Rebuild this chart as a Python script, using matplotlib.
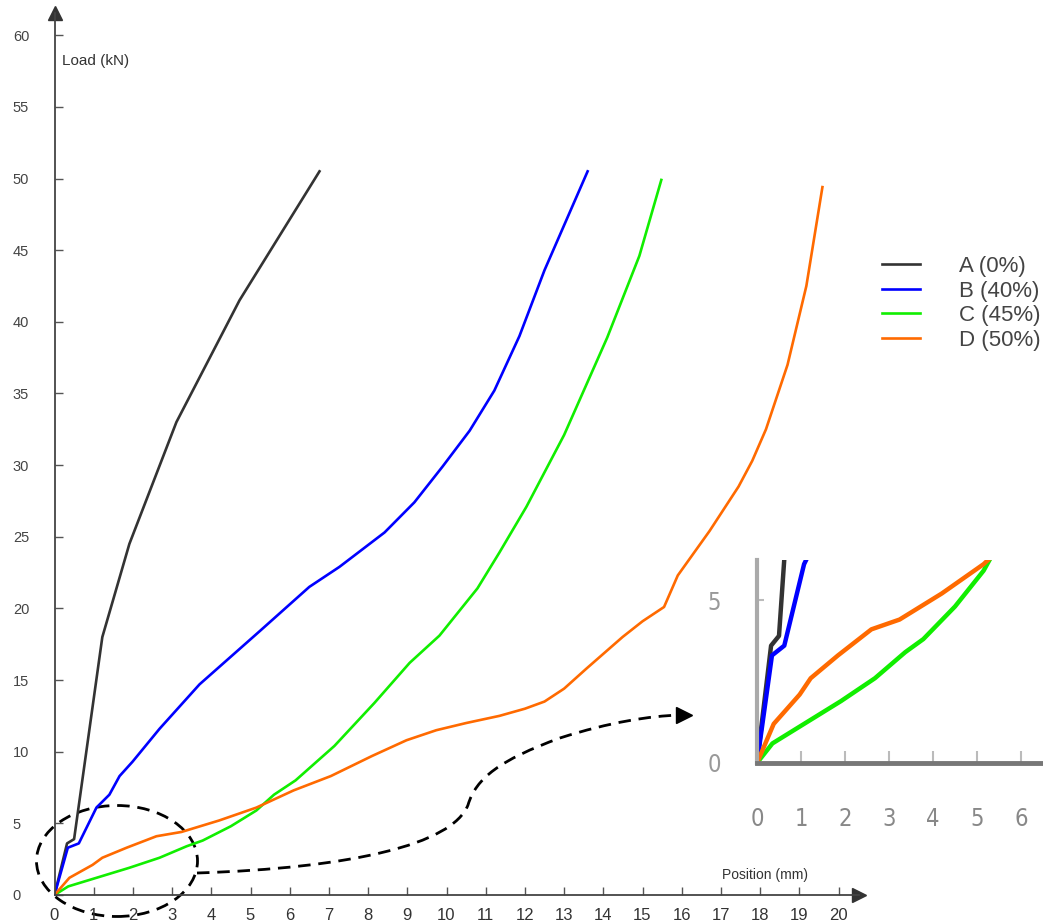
import matplotlib.pyplot as plt
import numpy as np
from matplotlib.patches import Ellipse, PathPatch
from matplotlib.path import Path
from matplotlib.lines import Line2D

# load curves: position (mm), load (kN)
a_x = [0, 0.32, 0.5, 1.22, 1.91, 3.11, 4.72, 6.76]
a_y = [0, 3.6, 3.9, 18.0, 24.5, 33.0, 41.5, 50.5]

b_x = [0, 0.34, 0.62, 1.07, 1.4, 1.66, 1.99, 2.68, 3.7, 5.23, 6.5, 7.27, 8.42,
       9.18, 9.9, 10.59, 11.22, 11.86, 12.5, 13.6]
b_y = [0, 3.3, 3.6, 6.1, 7.0, 8.3, 9.3, 11.6, 14.7, 18.4, 21.5, 22.9, 25.3,
       27.4, 29.9, 32.4, 35.2, 39.0, 43.6, 50.5]

c_x = [0, 0.35, 1.07, 1.91, 2.68, 3.37, 3.78, 4.5, 5.15, 5.6, 6.15, 7.14, 8.16,
       9.06, 9.82, 10.79, 11.35, 12.04, 13.0, 14.1, 14.92, 15.48]
c_y = [0, 0.6, 1.2, 1.9, 2.6, 3.4, 3.8, 4.8, 5.9, 7.0, 8.0, 10.4, 13.4,
       16.2, 18.1, 21.4, 23.9, 27.1, 32.1, 38.9, 44.6, 49.9]

d_x = [0, 0.38, 0.97, 1.22, 1.84, 2.6, 3.24, 4.2, 5.15, 6.1, 7.05, 8.1, 8.98,
       9.74, 10.5, 11.35, 12.0, 12.5, 13.0, 13.57, 14.49, 15.0, 15.55, 15.9,
       16.71, 17.45, 17.8, 18.15, 18.7, 19.18, 19.4, 19.59]
d_y = [0, 1.2, 2.1, 2.6, 3.3, 4.1, 4.4, 5.2, 6.1, 7.3, 8.3, 9.7, 10.8,
       11.5, 12.0, 12.5, 13.0, 13.5, 14.4, 15.8, 18.0, 19.1, 20.1, 22.3,
       25.4, 28.5, 30.3, 32.5, 37.0, 42.5, 46.2, 49.4]

labels = ["A (0%)", "B (40%)", "C (45%)", "D (50%)"]
colors = ["#333333", "#0000ff", "#11ee00", "#ff6a00"]
series = [(a_x, a_y), (b_x, b_y), (c_x, c_y), (d_x, d_y)]

x_ticks = list(range(0, 21))
y_ticks = list(range(0, 61, 5))
inset_x_ticks = list(range(0, 7))

W, H = 1043, 924
fig = plt.figure(figsize=(W / 100, H / 100), dpi=100)
plt.rcParams['font.family'] = ['Liberation Sans', 'DejaVu Sans']

# main axes: x=0 at px 54.5 (39.2 px/mm), y=0 at px 895 (14.33 px/kN)
x0, sx = 54.5, 39.2
y0, sy = 895, 14.33
right_px, top_px = 859, 13
ax = fig.add_axes([x0 / W, (H - y0) / H, (right_px - x0) / W, (y0 - top_px) / H])
ax.set_xlim(0, (right_px - x0) / sx)
ax.set_ylim(0, (y0 - top_px) / sy)


def px(x, y):
    return ((x - x0) / sx, (y0 - y) / sy)


for (xs, ys), c, lab in zip(series, colors, labels):
    ax.plot(xs, ys, color=c, lw=1.9, label=lab, solid_joinstyle='round')

for s in ["top", "right"]:
    ax.spines[s].set_visible(False)
for s in ["left", "bottom"]:
    ax.spines[s].set_color("#444444")
    ax.spines[s].set_linewidth(1.3)
ax.plot(1, 0, ">", color="#333333", ms=10, transform=ax.transAxes, clip_on=False)
ax.plot(0, 1, "^", color="#333333", ms=10, transform=ax.transAxes, clip_on=False)

ax.set_xticks(x_ticks)
ax.set_yticks(y_ticks)
ax.tick_params(axis="x", direction="in", length=6, width=1, color="#555555",
               labelsize=12, labelcolor="#333333", pad=9)
ax.tick_params(axis="y", direction="in", length=6, width=1, color="#555555",
               labelsize=10.5, labelcolor="#444444", pad=30)
for lbl in ax.get_yticklabels():
    lbl.set_horizontalalignment("left")

ax.text(0.2, 58.2, "Load (kN)", fontsize=11, color="#333333", va="center", ha="left")
ax.text(*px(765, 875), "Position (mm)", fontsize=10, color="#333333", va="center", ha="center")

# dashed zoom marker and arrow
ell = Ellipse(px(117, 861), 161 / sx, 111 / sy, fill=False, ls=(0, (4.5, 2.8)),
              lw=2, ec="black", clip_on=False)
ax.add_patch(ell)
verts = [px(197, 873), px(350, 868), px(452, 845), px(468, 805),
         px(476, 778), px(500, 760), px(560, 738),
         px(610, 722), px(650, 716), px(680, 715)]
codes = [Path.MOVETO] + [Path.CURVE4] * 9
ax.add_patch(PathPatch(Path(verts, codes), fill=False, ls=(0, (4.5, 2.8)), lw=2,
                       ec="black", clip_on=False))
ax.plot(*px(684, 715), ">", color="black", ms=11, clip_on=False)

# legend
handles = [Line2D([], [], color=c, lw=1.9) for c in colors]
fig.legend(handles, labels, loc="upper left", bbox_to_anchor=(882 / W, (H - 256) / H),
           frameon=False, fontsize=16, handlelength=1.7, handletextpad=1.75,
           labelspacing=0.16, borderpad=0, borderaxespad=0, labelcolor="#444444")

# inset: x=0 at px 757 (44 px/mm), y=0 at px 763 (32.6 px/kN)
ix0, isx = 757, 44.0
iy0, isy = 763, 32.6
ins = fig.add_axes([ix0 / W, (H - iy0) / H, (W - ix0) / W, (iy0 - 560) / H])
ins.set_xlim(0, (W - ix0) / isx)
ins.set_ylim(0, (iy0 - 560) / isy)
for (xs, ys), c in zip(series, colors):
    ins.plot(xs, ys, color=c, lw=3.2)
for s in ["top", "right"]:
    ins.spines[s].set_visible(False)
ins.spines["left"].set_color("#aaaaaa")
ins.spines["left"].set_linewidth(3)
ins.spines["bottom"].set_color("#777777")
ins.spines["bottom"].set_linewidth(3.5)
ins.set_xticks(inset_x_ticks)
ins.set_yticks([0, 5])
ins.tick_params(axis="x", direction="in", length=9, width=1.5, color="#bbbbbb",
                labelsize=17, labelcolor="#888888", pad=32)
ins.tick_params(axis="y", direction="in", length=5, width=1.5, color="#bbbbbb",
                labelsize=17, labelcolor="#999999", pad=26)
for lbl in ins.get_xticklabels() + ins.get_yticklabels():
    lbl.set_family(["Liberation Sans Narrow", "DejaVu Sans"])
    lbl.set_stretch("condensed")

fig.savefig("out.png", dpi=100)
